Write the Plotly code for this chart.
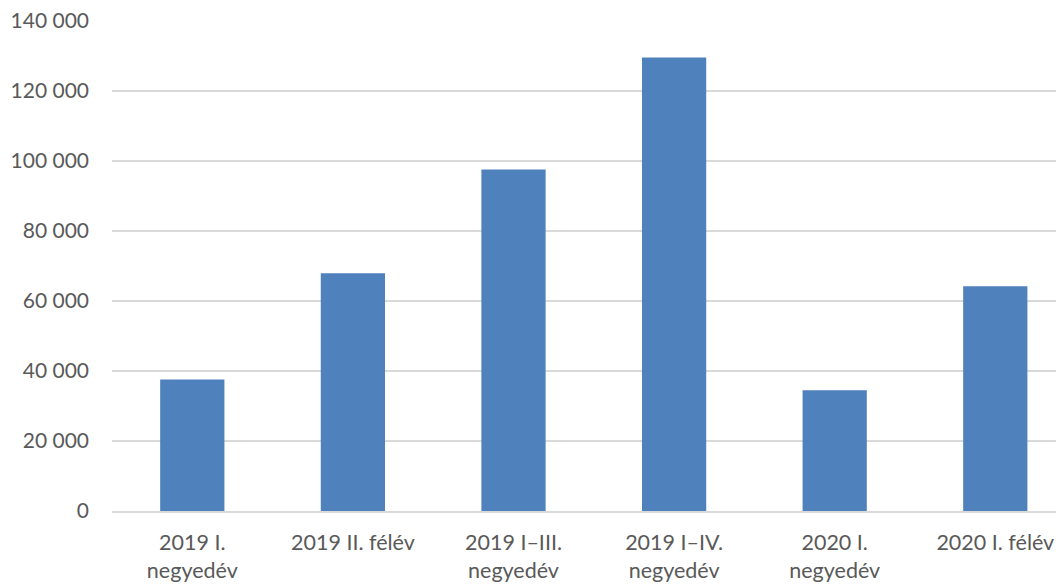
import plotly.graph_objects as go

# Period labels and the corresponding values
categories = [
    "2019 I.<br>negyedév",
    "2019 II. félév",
    "2019 I–III.<br>negyedév",
    "2019 I–IV.<br>negyedév",
    "2020 I.<br>negyedév",
    "2020 I. félév",
]
values = [37600, 67900, 97600, 129600, 34500, 64200]
y_ticks = [0, 20000, 40000, 60000, 80000, 100000, 120000, 140000]

fig = go.Figure(
    go.Bar(
        x=list(range(len(categories))),
        y=values,
        width=0.4,
        marker=dict(color="#4f81bd", line=dict(width=0)),
    )
)

font_color = "#595959"
fig.update_layout(
    width=1056,
    height=584,
    margin=dict(l=112, r=0, t=21, b=73),
    plot_bgcolor="white",
    paper_bgcolor="white",
    separators=", ",
    font=dict(family="Lato, 'Open Sans', sans-serif", size=21, color=font_color),
    showlegend=False,
    bargap=0.6,
)
fig.update_xaxes(
    tickmode="array",
    tickvals=list(range(len(categories))),
    ticktext=categories,
    range=[-0.5, 5.378],
    showgrid=False,
    showline=True,
    linecolor="#d9d9d9",
    linewidth=1.5,
    ticks="",
    tickangle=0,
    tickfont=dict(size=21.5),
    ticklabelstandoff=11,
)
fig.update_yaxes(
    range=[0, 140000],
    tickmode="array",
    tickvals=y_ticks,
    tickformat=",d",
    showgrid=True,
    gridcolor="#d9d9d9",
    gridwidth=1.5,
    zeroline=False,
    showline=False,
    ticks="",
    ticklabelstandoff=22,
)

fig.write_html("out.html")
